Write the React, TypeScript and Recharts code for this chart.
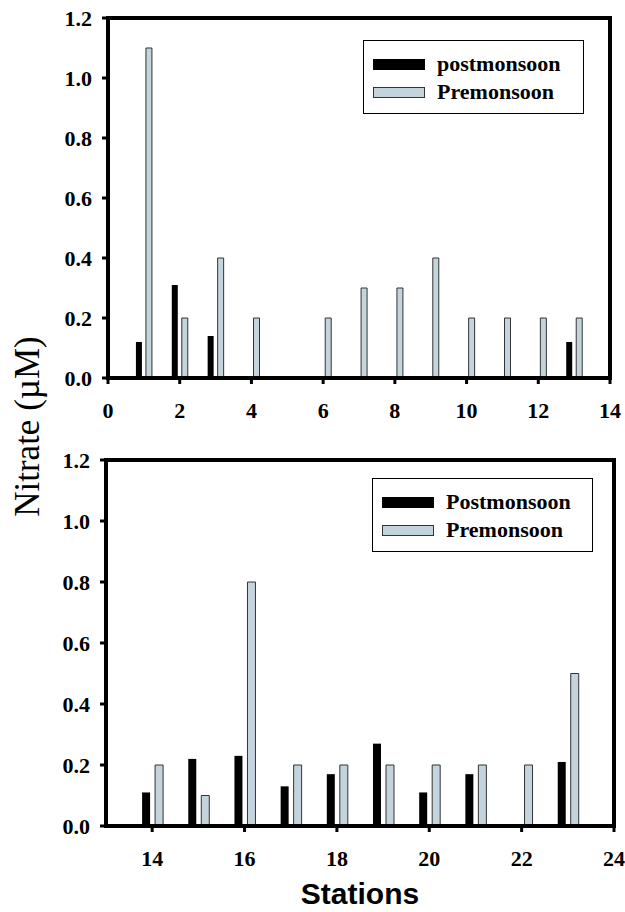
import { Bar, BarChart, Legend, ReferenceLine, XAxis, YAxis } from "recharts";

const SERIF = '"Liberation Serif", "Times New Roman", serif';
const SANS = '"Liberation Sans", Arial, sans-serif';

const POST_COLOR = "#000000";
const PRE_COLOR = "#c4d4dd";
const PRE_STROKE = "#333333";

// upper panel, stations 1-13
const TOP_STATIONS = [1, 2, 3, 4, 5, 6, 7, 8, 9, 10, 11, 12, 13];
const TOP_POST = [0.12, 0.31, 0.14, null, null, null, null, null, null, null, null, null, 0.12];
const TOP_PRE = [1.1, 0.2, 0.4, 0.2, null, 0.2, 0.3, 0.3, 0.4, 0.2, 0.2, 0.2, 0.2];
const TOP_X_TICKS = [0, 2, 4, 6, 8, 10, 12, 14];

// lower panel, stations 14-23
const BOTTOM_STATIONS = [14, 15, 16, 17, 18, 19, 20, 21, 22, 23];
const BOTTOM_POST = [0.11, 0.22, 0.23, 0.13, 0.17, 0.27, 0.11, 0.17, null, 0.21];
const BOTTOM_PRE = [0.2, 0.1, 0.8, 0.2, 0.2, 0.2, 0.2, 0.2, 0.2, 0.5];
const BOTTOM_X_TICKS = [14, 16, 18, 20, 22, 24];

const Y_TICKS = [0, 0.2, 0.4, 0.6, 0.8, 1.0, 1.2];

type Row = { station: number; post: number | null; pre: number | null };

function buildRows(stations: number[], post: (number | null)[], pre: (number | null)[]): Row[] {
  return stations.map((s, i) => ({ station: s, post: post[i], pre: pre[i] }));
}

const axisLine = { stroke: "#000", strokeWidth: 4, strokeLinecap: "square" as const };
const tickLine = { stroke: "#000", strokeWidth: 3 };
const TICK_FONT = 22;

function XTick({ x, y, payload }: any) {
  return (
    <text x={x} y={y} dy="0.71em" textAnchor="middle" fill="#000" fontSize={TICK_FONT} fontWeight={700} fontFamily={SERIF}>
      {payload.value}
    </text>
  );
}

function YTick({ x, y, payload }: any) {
  return (
    <text x={x} y={y} dy="0.36em" textAnchor="end" fill="#000" fontSize={TICK_FONT} fontWeight={700} fontFamily={SERIF}>
      {Number(payload.value).toFixed(1)}
    </text>
  );
}

function LegendBox({ payload }: any) {
  return (
    <div
      style={{
        width: 221,
        height: 74,
        border: "1px solid #000",
        boxSizing: "border-box",
        background: "#fff",
        paddingTop: 9,
      }}
    >
      {(payload || []).map((entry: any) => (
        <div key={entry.value} style={{ display: "flex", alignItems: "center", height: 28 }}>
          <span
            style={{
              display: "inline-block",
              marginLeft: 9,
              width: 52,
              height: 11,
              boxSizing: "border-box",
              background: entry.color,
              border: `1px solid ${entry.payload?.stroke || entry.color}`,
            }}
          />
          <span
            style={{
              marginLeft: 12,
              fontFamily: SERIF,
              fontWeight: 700,
              fontSize: 22,
              color: "#000",
              lineHeight: "28px",
            }}
          >
            {entry.value}
          </span>
        </div>
      ))}
    </div>
  );
}

type PanelProps = {
  rows: Row[];
  domain: [number, number];
  xTicks: number[];
  postName: string;
  width: number;
  height: number;
  margin: { top: number; right: number; bottom: number; left: number };
  yAxisWidth: number;
  xAxisHeight: number;
  barSize: number;
  barGap: number;
  legendLeft: number;
  legendTop: number;
  xLabel?: string;
  xLabelOffset?: number;
};

function Panel(p: PanelProps) {
  return (
    <BarChart width={p.width} height={p.height} data={p.rows} margin={p.margin} barGap={p.barGap} barSize={p.barSize}>
      <XAxis
        dataKey="station"
        type="number"
        domain={p.domain}
        ticks={p.xTicks}
        allowDataOverflow
        height={p.xAxisHeight}
        tick={<XTick />}
        tickLine={tickLine}
        tickSize={6}
        tickMargin={18}
        axisLine={axisLine}
        label={
          p.xLabel
            ? {
                value: p.xLabel,
                position: "insideBottom",
                offset: p.xLabelOffset ?? 0,
                fill: "#000",
                fontSize: 30,
                fontWeight: 700,
                fontFamily: SANS,
              }
            : undefined
        }
      />
      <YAxis
        type="number"
        domain={[0, 1.2]}
        ticks={Y_TICKS}
        width={p.yAxisWidth}
        tick={<YTick />}
        tickLine={tickLine}
        tickSize={6}
        tickMargin={10}
        axisLine={axisLine}
      />
      <ReferenceLine y={1.2} stroke="#000" strokeWidth={4} strokeLinecap="square" />
      <ReferenceLine x={p.domain[1]} stroke="#000" strokeWidth={4} strokeLinecap="square" />
      <Legend
        layout="vertical"
        align="center"
        verticalAlign="middle"
        itemSorter="dataKey"
        wrapperStyle={{ left: p.legendLeft, top: p.legendTop, width: 221, height: 74 }}
        content={<LegendBox />}
      />
      <Bar name={p.postName} dataKey="post" fill={POST_COLOR} isAnimationActive={false} />
      <Bar name="Premonsoon" dataKey="pre" fill={PRE_COLOR} stroke={PRE_STROKE} strokeWidth={1} isAnimationActive={false} />
    </BarChart>
  );
}

export default function App() {
  const topRows = buildRows(TOP_STATIONS, TOP_POST, TOP_PRE);
  const bottomRows = buildRows(BOTTOM_STATIONS, BOTTOM_POST, BOTTOM_PRE);

  return (
    <div style={{ position: "absolute", left: 0, top: 0, width: 625, height: 912, background: "#fff" }}>
      <div style={{ position: "absolute", left: 0, top: 0 }}>
        <Panel
          rows={topRows}
          domain={[0, 14]}
          xTicks={TOP_X_TICKS}
          postName="postmonsoon"
          width={625}
          height={430}
          margin={{ top: 18, right: 15, bottom: 0, left: 0 }}
          yAxisWidth={108}
          xAxisHeight={52}
          barSize={6}
          barGap={4}
          legendLeft={363}
          legendTop={40}
        />
      </div>
      <div style={{ position: "absolute", left: 0, top: 440 }}>
        <Panel
          rows={bottomRows}
          domain={[13, 24]}
          xTicks={BOTTOM_X_TICKS}
          postName="Postmonsoon"
          width={625}
          height={472}
          margin={{ top: 20, right: 11, bottom: 0, left: 0 }}
          yAxisWidth={106}
          xAxisHeight={86}
          barSize={8}
          barGap={5}
          legendLeft={372}
          legendTop={38}
          xLabel="Stations"
          xLabelOffset={8}
        />
      </div>
      <svg width={60} height={912} style={{ position: "absolute", left: 0, top: 0 }}>
        <text
          transform="translate(39, 426.5) rotate(-90)"
          textAnchor="middle"
          fontFamily={SERIF}
          fontSize={35}
          fill="#000"
        >
          Nitrate (µM)
        </text>
      </svg>
    </div>
  );
}
